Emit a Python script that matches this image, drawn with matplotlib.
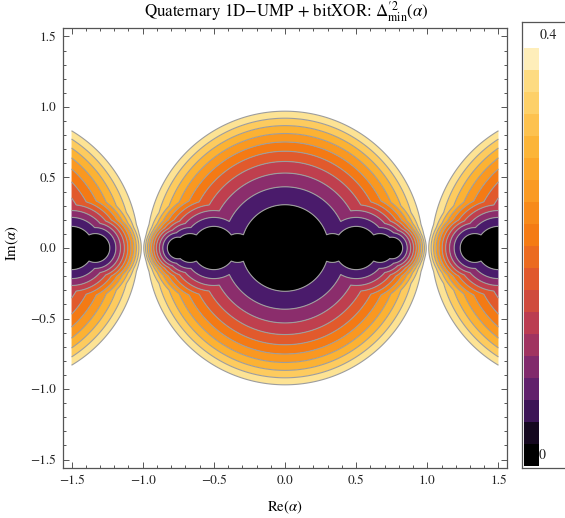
import numpy as np
import matplotlib
matplotlib.use("Agg")
import matplotlib.pyplot as plt
from matplotlib.colors import LinearSegmentedColormap
from itertools import product

# Quaternary one-dimensional alphabet (integer amplitudes) and its 2-bit labels
pam_levels = [-2, -1, 1, 2]
bit_labels = [0b00, 0b01, 0b11, 0b10]
step_sq = 0.425          # squared distance of one amplitude step

# contour levels of the filled plot; values above the last one are clipped
contour_levels = [0.04, 0.08, 0.12, 0.16, 0.20, 0.24, 0.28, 0.32, 0.36, 0.40]
bar_range = [0.0, 0.4]
bar_steps = 19
bar_labels = ["0", "0.4"]

# sunset-type palette (position, colour)
palette_pos = [0.00, 0.05, 0.15, 0.25, 0.35, 0.45, 0.55, 0.65, 0.75, 0.85, 0.95, 1.00]
palette_hex = ["#000000", "#000000", "#4b1b6c", "#8a2d6c", "#c03f4e", "#e15a2c",
               "#f47a14", "#fa9820", "#fcb132", "#fdcb5e", "#fde28f", "#fff8e0"]

plot_lim = 1.5
tick_major = [-1.5, -1.0, -0.5, 0.0, 0.5, 1.0, 1.5]

cmap = LinearSegmentedColormap.from_list("sunset", list(zip(palette_pos, palette_hex)))

# ---- hierarchical minimum distance over the complex plane -----------------
diffs = set()
for ia, ib, ja, jb in product(range(4), repeat=4):
    if bit_labels[ia] ^ bit_labels[ib] != bit_labels[ja] ^ bit_labels[jb]:
        diffs.add((pam_levels[ia] - pam_levels[ja], pam_levels[ib] - pam_levels[jb]))

grid = np.linspace(-plot_lim, plot_lim, 1100)
RE, IM = np.meshgrid(grid, grid)
alpha = RE + 1j * IM
dmin = np.full(alpha.shape, np.inf)
for da, db in diffs:
    dmin = np.minimum(dmin, np.abs(da + alpha * db) ** 2)
delta2 = step_sq * dmin

# ---- figure ---------------------------------------------------------------
plt.rcParams["font.family"] = ["STIXGeneral", "DejaVu Serif"]
plt.rcParams["mathtext.fontset"] = "stix"

W, H = 565, 518
fig = plt.figure(figsize=(W / 100, H / 100), dpi=100)

def px_rect(x0, y0, x1, y1):
    return [x0 / W, 1 - y1 / H, (x1 - x0) / W, (y1 - y0) / H]

pad = 0.04 * plot_lim
ax = fig.add_axes(px_rect(63, 28, 507, 468))
n_band = len(contour_levels)
band_colors = [cmap((k + 0.5) / n_band) for k in range(n_band)]
fill_levels = [-1.0] + contour_levels
ax.contourf(RE, IM, delta2, levels=fill_levels, colors=band_colors, antialiased=True)
ax.contour(RE, IM, delta2, levels=contour_levels, colors="#9d9d9d", linewidths=0.8)

ax.set_xlim(-plot_lim - pad, plot_lim + pad)
ax.set_ylim(-plot_lim - pad, plot_lim + pad)
ax.set_xticks(tick_major)
ax.set_yticks(tick_major)
ax.set_xticklabels([f"{v:.1f}".replace("-", "\u2212") for v in tick_major])
ax.set_yticklabels([f"{v:.1f}".replace("-", "\u2212") for v in tick_major])
ax.set_xticks(np.round(np.arange(-1.5, 1.51, 0.1), 2), minor=True)
ax.set_yticks(np.round(np.arange(-1.5, 1.51, 0.1), 2), minor=True)
ax.tick_params(which="both", direction="in", top=True, right=True,
               color="#555555", labelcolor="#222222", labelsize=9.5, width=0.7)
ax.tick_params(which="major", length=4.2, pad=5)
ax.tick_params(which="minor", length=2.3)
for sp in ax.spines.values():
    sp.set_color("#555555")
    sp.set_linewidth(0.9)

fig.text(286 / W, 1 - 12 / H,
         r"Quaternary 1D$-$UMP + bitXOR: $\Delta^{\prime 2}_{\mathrm{min}}(\alpha)$",
         ha="center", va="center", fontsize=12.2)
fig.text(285 / W, 1 - 507 / H, r"Re($\alpha$)", ha="center", va="center", fontsize=10.5)
fig.text(12 / W, 1 - 243 / H, r"Im($\alpha$)", ha="center", va="center",
         rotation=90, fontsize=10.5)

# ---- colour bar -------------------------------------------------------------
cax = fig.add_axes(px_rect(522, 22, 600, 468))
cax.set_xlim(0, 78)
cax.set_ylim(0, 446)
cax.set_xticks([])
cax.set_yticks([])
for side in ("left", "top", "bottom"):
    cax.spines[side].set_color("#555555")
    cax.spines[side].set_linewidth(0.9)
cax.spines["right"].set_visible(False)
bar_y0, bar_y1 = 2, 420
step_h = (bar_y1 - bar_y0) / bar_steps
for j in range(bar_steps):
    cax.add_patch(plt.Rectangle((2.3, bar_y0 + j * step_h), 14.7, step_h,
                                facecolor=cmap((j + 0.5) / bar_steps), edgecolor="none"))
cax.text(20, 13, bar_labels[0], ha="center", va="center", fontsize=10, color="#222222")
cax.text(26, 433, bar_labels[1], ha="center", va="center", fontsize=10, color="#222222")

fig.savefig("out.png", dpi=100)
